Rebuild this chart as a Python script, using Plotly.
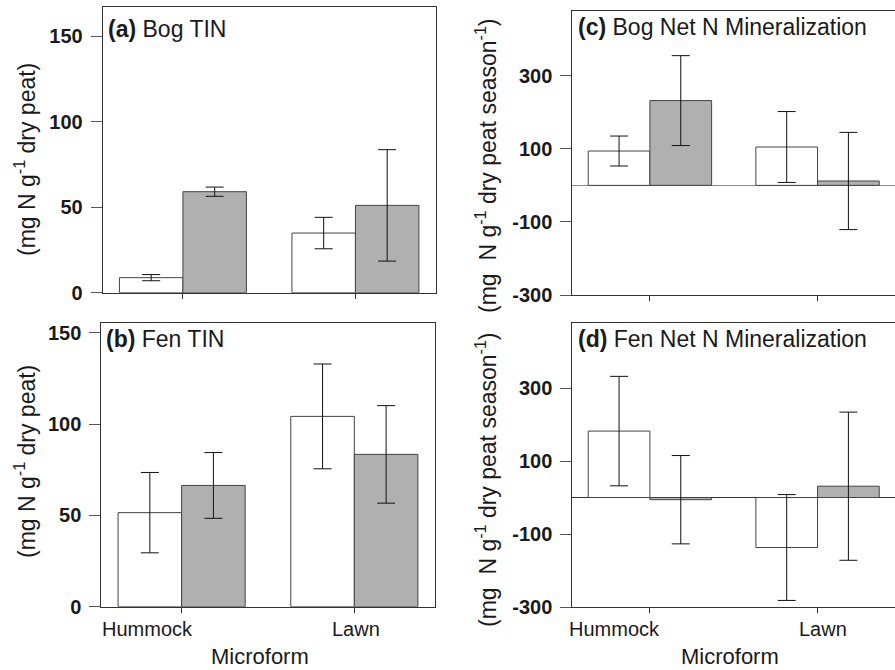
import plotly.graph_objects as go

# ---- data ----
categories = ["Hummock", "Lawn"]
cat_pos = [1, 2]

bog_tin_white = [8.8, 34.9]
bog_tin_white_err = [1.8, 9.2]
bog_tin_gray = [59.1, 51.1]
bog_tin_gray_err = [2.7, 32.6]

fen_tin_white = [51.5, 104.2]
fen_tin_white_err = [22.0, 28.7]
fen_tin_gray = [66.4, 83.4]
fen_tin_gray_err = [18.0, 26.7]

bog_min_white = [94, 105]
bog_min_white_err = [41, 97]
bog_min_gray = [232, 12]
bog_min_gray_err = [123, 133]

fen_min_white = [182, -137]
fen_min_white_err = [150, 145]
fen_min_gray = [-6, 31]
fen_min_gray_err = [121, 203]

tin_ticks = [0, 50, 100, 150]
min_ticks = [-300, -100, 100, 300]

panel_titles = ["<b>(a)</b> Bog TIN", "<b>(b)</b> Fen TIN",
                "<b>(c)</b> Bog Net N Mineralization", "<b>(d)</b> Fen Net N Mineralization"]
ytitle_tin = "(mg N g<sup>-1</sup> dry peat)"
ytitle_min = "(mg\u00a0\u00a0N g<sup>-1</sup> dry peat season<sup>-1</sup>)"
xtitle = "Microform"

# ---- layout helpers ----
W, H = 895, 670
FONT = "Liberation Sans, Arial, Helvetica, sans-serif"
WHITE = "#ffffff"
GRAY = "#b0b0b0"
EDGE = "#444444"
BW = 0.368

def px_x(p):
    return p / W

def px_y(p):
    return 1 - p / H

fig = go.Figure()

panels = [
    (bog_tin_white, bog_tin_white_err, bog_tin_gray, bog_tin_gray_err, ""),
    (fen_tin_white, fen_tin_white_err, fen_tin_gray, fen_tin_gray_err, "2"),
    (bog_min_white, bog_min_white_err, bog_min_gray, bog_min_gray_err, "3"),
    (fen_min_white, fen_min_white_err, fen_min_gray, fen_min_gray_err, "4"),
]

for wv, we, gv, ge, s in panels:
    for vals, errs, col, off in [(wv, we, WHITE, -BW), (gv, ge, GRAY, 0)]:
        fig.add_trace(go.Bar(
            x=cat_pos, y=vals, width=BW, offset=off,
            marker=dict(color=col, line=dict(color=EDGE, width=1)),
            error_y=dict(type="data", array=errs, visible=True,
                         color="#111111", thickness=1, width=9),
            xaxis="x" + s, yaxis="y" + s, showlegend=False,
        ))

dom = {
    "": (102.7, 436.0, 7.3, 292.7),
    "2": (101.3, 435.0, 322.7, 606.7),
    "3": (572.3, 895.0, 10.7, 295.0),
    "4": (572.3, 895.0, 322.7, 607.0),
}
xr_left = [0.535, 2.467]
xr_right = [0.537, 2.462]
yranges = {"": [0, 167], "2": [0, 155.5], "3": [-300, 478], "4": [-300, 479]}
yticks = {"": tin_ticks, "2": tin_ticks, "3": min_ticks, "4": min_ticks}
zero_colors = {"3": "#8a8a8a", "4": "#333333"}

layout = dict(
    width=W, height=H, margin=dict(l=0, r=0, t=0, b=0, pad=0, autoexpand=False),
    paper_bgcolor="white", plot_bgcolor="white",
    font=dict(family=FONT, color="#1a1a1a"),
    barmode="overlay", showlegend=False,
)

for s, (l, r, t, b) in dom.items():
    is_min = s in ("3", "4")
    xr = xr_right if is_min else xr_left
    layout["xaxis" + s] = dict(
        domain=[px_x(l), min(px_x(r), 1.0)], range=xr,
        anchor="y" + s, tickvals=cat_pos, showticklabels=False,
        ticks="outside", ticklen=5, tickcolor="#333", tickwidth=1,
        showline=True, linecolor="#333", linewidth=1, mirror=True,
        showgrid=False, zeroline=False, fixedrange=True, automargin=False,
    )
    layout["yaxis" + s] = dict(
        domain=[px_y(b), px_y(t)], range=yranges[s],
        anchor="x" + s, tickvals=yticks[s],
        ticktext=[str(v) for v in yticks[s]],
        tickfont=dict(size=20, weight="bold", color="#1a1a1a"),
        ticks="outside", ticklen=11, tickcolor="#555", tickwidth=1,
        ticklabelstandoff=4,
        showline=True, linecolor="#333", linewidth=1, mirror=not is_min,
        showgrid=False, zeroline=is_min, zerolinecolor=zero_colors.get(s, "#555"),
        zerolinewidth=1, fixedrange=True, automargin=False,
    )

annotations = []
title_pos = [(106, 29), (104, 339.3), (576, 26.7), (576, 339.3)]
for txt, (x, y) in zip(panel_titles, title_pos):
    annotations.append(dict(text=txt, x=px_x(x), y=px_y(y), xref="paper", yref="paper",
                            xanchor="left", yanchor="middle", showarrow=False,
                            font=dict(size=23, family=FONT, color="#1a1a1a")))
for txt, x, y in [(ytitle_tin, 25, 160), (ytitle_tin, 25, 462),
                  (ytitle_min, 486, 166), (ytitle_min, 486, 480)]:
    annotations.append(dict(text=txt, x=px_x(x), y=px_y(y), xref="paper", yref="paper",
                            xanchor="center", yanchor="middle", textangle=-90,
                            showarrow=False, font=dict(size=23, family=FONT, color="#1a1a1a")))
for s, offs in [("2", (-0.2, 0.01)), ("4", (-0.21, 0.03))]:
    for cat, p, o in zip(categories, cat_pos, offs):
        annotations.append(dict(text=cat, x=p + o, y=px_y(629), xref="x" + s, yref="paper",
                                xanchor="center", yanchor="middle", showarrow=False,
                                font=dict(size=20, family=FONT, color="#1a1a1a")))
for x in (260, 730):
    annotations.append(dict(text=xtitle, x=px_x(x), y=px_y(656), xref="paper", yref="paper",
                            xanchor="center", yanchor="middle", showarrow=False,
                            font=dict(size=22, family=FONT, color="#1a1a1a")))

layout["annotations"] = annotations
fig.update_layout(**layout)
fig.write_html("out.html",
               post_script="document.body.style.margin='0';document.body.style.overflow='hidden';")
